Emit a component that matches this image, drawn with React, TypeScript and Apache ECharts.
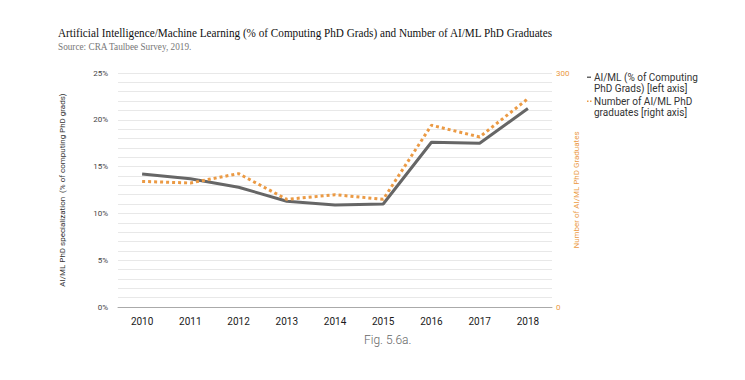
import React, { useEffect, useRef } from "react";
import * as echarts from "echarts";

const years = ["2010", "2011", "2012", "2013", "2014", "2015", "2016", "2017", "2018"];
const aimlShare = [14.2, 13.7, 12.8, 11.3, 10.9, 11.0, 17.6, 17.5, 21.2];
const aimlGrads = [161, 159, 171, 138, 144, 138, 233, 218, 267];
const leftTicks = [0, 5, 10, 15, 20, 25];
const rightTicks = [0, 100, 200, 300];
const seriesNames = ["AI/ML (% of Computing PhD Grads) [left axis]", "Number of AI/ML PhD graduates [right axis]"];
const legendLines = [
  ["AI/ML (% of Computing", "PhD Grads) [left axis]"],
  ["Number of AI/ML PhD", "graduates [right axis]"],
];

const ORANGE = "#EB9A44";
const GRAY = "#666666";

export default function App() {
  const ref = useRef<HTMLDivElement>(null);
  useEffect(() => {
    if (!ref.current) return;
    const chart = echarts.init(ref.current, undefined, { renderer: "svg" });
    const legendText = { fontFamily: "Roboto", fontSize: 10, fill: "#333", lineHeight: 11.5 };
    chart.setOption({
      animation: false,
      backgroundColor: "#ffffff",
      textStyle: { fontFamily: "Roboto" },
      grid: { left: 118, right: 193, top: 73, bottom: 73 },
      xAxis: {
        type: "category",
        data: years,
        boundaryGap: true,
        axisLine: { lineStyle: { color: "#aaa" } },
        axisTick: { show: false },
        axisLabel: { color: "#1a1a1a", fontSize: 10, margin: 9 },
      },
      yAxis: [
        {
          type: "value",
          min: 0,
          max: 25,
          interval: 1,
          name: "AI/ML PhD specialization  (% of computing PhD grads)",
          nameLocation: "middle",
          nameGap: 52,
          nameMoveOverlap: false,
          nameTextStyle: { fontSize: 8, color: "#333" },
          axisLine: { show: false },
          axisTick: { show: false },
          axisLabel: {
            fontSize: 8,
            color: "#444",
            margin: 10,
            formatter: (v: number) => (leftTicks.includes(v) ? v + "%" : ""),
          },
          splitLine: { lineStyle: { color: "#e8e8e8" } },
        },
        {
          type: "value",
          min: 0,
          max: 300,
          interval: 12,
          name: "Number of AI/ML PhD Graduates",
          nameLocation: "middle",
          nameGap: 20,
          nameMoveOverlap: false,
          nameTextStyle: { fontSize: 8, color: ORANGE },
          axisLine: { show: false },
          axisTick: { show: false },
          axisLabel: {
            fontSize: 8,
            color: ORANGE,
            margin: 4,
            formatter: (v: number) => (rightTicks.includes(v) ? String(v) : ""),
          },
          splitLine: { show: false },
        },
      ],
      series: [
        {
          name: seriesNames[0],
          type: "line",
          yAxisIndex: 0,
          data: aimlShare,
          showSymbol: false,
          symbol: "none",
          lineStyle: { color: GRAY, width: 3 },
          itemStyle: { color: GRAY },
          z: 3,
        },
        {
          name: seriesNames[1],
          type: "line",
          yAxisIndex: 1,
          data: aimlGrads,
          showSymbol: false,
          symbol: "none",
          lineStyle: { color: ORANGE, width: 3, type: [3, 3] },
          itemStyle: { color: ORANGE },
          z: 4,
        },
      ],
      graphic: [
        {
          type: "text",
          x: 58,
          y: 26,
          scaleX: 0.83,
          style: {
            text: "Artificial Intelligence/Machine Learning (% of Computing PhD Grads) and Number of AI/ML PhD Graduates",
            fontFamily: "Liberation Serif",
            fontSize: 13.5,
            fill: "#111",
          },
        },
        {
          type: "text",
          x: 58,
          y: 41,
          scaleX: 0.84,
          style: { text: "Source: CRA Taulbee Survey, 2019.", fontFamily: "Liberation Serif", fontSize: 11, fill: "#777" },
        },
        { type: "rect", shape: { x: 587, y: 76.5, width: 4, height: 1.5 }, style: { fill: GRAY } },
        { type: "text", x: 594, y: 71.5, style: { text: legendLines[0].join("\n"), ...legendText } },
        { type: "rect", shape: { x: 587, y: 100.5, width: 1.5, height: 1.5 }, style: { fill: ORANGE } },
        { type: "rect", shape: { x: 590, y: 100.5, width: 1.5, height: 1.5 }, style: { fill: ORANGE } },
        { type: "text", x: 594, y: 95.5, style: { text: legendLines[1].join("\n"), ...legendText } },
        {
          type: "text",
          x: 364,
          y: 334,
          style: { text: "Fig. 5.6a.", fontFamily: "Roboto", fontWeight: 300, fontSize: 12, fill: "#666" },
        },
      ],
    });
    return () => chart.dispose();
  }, []);
  return <div ref={ref} style={{ width: 745, height: 380, marginLeft: -8, marginTop: -8 }} />;
}
